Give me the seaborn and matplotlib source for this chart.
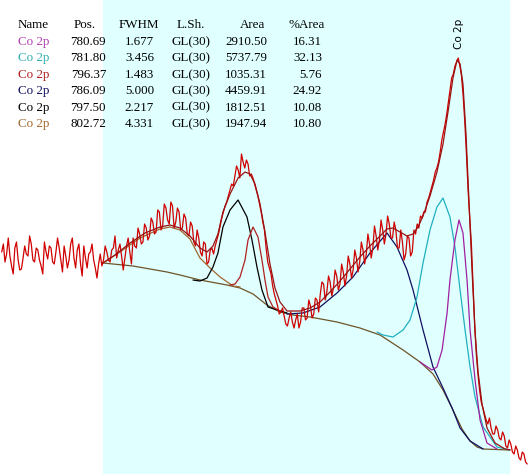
import numpy as np
import matplotlib
matplotlib.use("Agg")
import matplotlib.pyplot as plt
import seaborn as sns

# ---- spectrum (binding energy grid, eV) ----
be_start = 815.5
be_step = 0.125
counts = [222, 230, 212, 220, 236, 218, 208, 200, 226, 232, 214, 204, 205, 216, 228, 220, 218, 238, 230, 214,
          212, 226, 224, 214, 208, 200, 232, 222, 215, 228, 226, 212, 210, 222, 236, 226, 214, 202, 228, 218,
          206, 214, 230, 236, 216, 206, 224, 230, 210, 198, 228, 216, 206, 220, 222, 230, 214, 206, 196, 210,
          220, 208, 214, 228, 222, 214, 212, 224, 226, 238, 216, 224, 230, 218, 204, 216, 228, 236, 222, 210,
          236, 228, 226, 246, 240, 230, 232, 250, 246, 234, 238, 256, 252, 240, 242, 264, 262, 244, 248, 270,
          266, 254, 250, 272, 268, 246, 252, 266, 262, 244, 246, 260, 256, 240, 238, 252, 248, 232, 228, 244,
          236, 222, 218, 232, 230, 210, 212, 224, 226, 220, 228, 234, 240, 248, 256, 262, 268, 272, 278, 284,
          290, 288, 298, 308, 304, 296, 320, 312, 306, 314, 310, 298, 300, 296, 290, 284, 278, 270, 262, 252,
          244, 226, 212, 206, 200, 188, 180, 174, 168, 160, 162, 166, 158, 150, 148, 156, 162, 152, 146, 154,
          160, 146, 152, 166, 166, 154, 156, 174, 168, 156, 160, 176, 174, 162, 180, 192, 190, 174, 182, 198,
          192, 178, 186, 204, 198, 184, 190, 210, 202, 188, 198, 218, 210, 196, 204, 224, 216, 202, 212, 232,
          224, 210, 220, 240, 230, 216, 226, 248, 238, 224, 234, 254, 244, 230, 240, 258, 250, 236, 236, 252,
          244, 226, 226, 244, 232, 214, 220, 238, 236, 218, 222, 244, 240, 250, 246, 258, 256, 262, 262, 272,
          276, 282, 288, 294, 302, 306, 312, 322, 334, 342, 350, 360, 372, 384, 396, 400, 408, 412, 416, 408,
          398, 378, 352, 320, 284, 256, 230, 190, 150, 120, 100, 84, 72, 66, 60, 54, 50, 56, 46, 40,
          40, 48, 44, 36, 34, 42, 38, 28, 26, 34, 30, 22, 20, 28, 24, 16, 14, 22, 20, 12,
          10]

# ---- fit: background, envelope and components ----
bg_be = [807.79, 805.51, 802.92, 801.93, 800.41, 798.35, 797.36, 796.37, 795.31, 794.32,
         793.33, 792.03, 789.98, 788.23, 786.70, 784.95, 783.66, 782.67, 781.91, 781.15,
         780.46, 779.85, 779.32, 778.86, 776.81]
bg_cps = [211, 208, 202, 199, 194, 189, 186, 180, 169, 162,
          159, 157, 152, 146, 139, 124, 112, 100, 84, 64,
          45, 33, 27, 25, 24]

env_be = [807.79, 806.88, 805.73, 804.59, 803.45, 802.69, 801.93, 801.17, 800.41, 799.87,
          799.42, 799.04, 798.66, 798.12, 797.51, 796.98, 796.60, 796.22, 795.84, 795.46,
          795.08, 794.70, 794.32, 793.78, 792.79, 792.03, 791.27, 790.51, 789.75, 788.99,
          788.23, 787.47, 786.70, 786.17, 785.72, 785.18, 784.65, 784.19, 783.81, 783.43,
          782.90, 782.37, 781.91, 781.53, 781.15, 780.84, 780.61, 780.39, 780.16, 779.93,
          779.70, 779.47, 779.24, 778.94, 778.56, 777.95, 777.19, 776.81]
env_cps = [211, 219, 231, 241, 247, 249, 246, 238, 226, 222,
           228, 240, 262, 280, 296, 302, 300, 290, 270, 242,
           210, 186, 172, 163, 163, 166, 172, 182, 193, 205,
           217, 228, 238, 245, 246, 242, 238, 240, 247, 258,
           278, 302, 330, 362, 396, 414, 410, 390, 340, 272,
           204, 142, 102, 70, 46, 31, 25, 24]

names = ["Co 2p", "Co 2p", "Co 2p", "Co 2p", "Co 2p", "Co 2p"]
pos = ["780.69", "781.80", "796.37", "786.09", "797.50", "802.72"]
fwhm = ["1.677", "3.456", "1.483", "5.000", "2.217", "4.331"]
lsh = ["GL(30)"] * 6
area = ["2910.50", "5737.79", "1035.31", "4459.91", "1812.51", "1947.94"]
parea = ["16.31", "32.13", "5.76", "24.92", "10.08", "10.80"]

c1_be = [783.66, 782.75, 782.37, 781.98, 781.60, 781.38, 781.00, 780.69, 780.39, 780.08,
         779.85, 779.47, 779.09, 778.56, 777.80]
c1_cps = [112, 104, 107, 124, 161, 194, 234, 254, 241, 194,
          144, 94, 54, 31, 25]
c2_be = [786.93, 786.48, 785.72, 784.95, 784.42, 783.89, 783.43, 782.90, 782.37, 781.91,
         781.38, 781.00, 780.61, 780.23, 779.85, 779.47, 778.86, 777.80, 776.81]
c2_cps = [142, 139, 137, 144, 154, 177, 211, 244, 267, 276,
          257, 227, 184, 144, 107, 77, 47, 27, 24]
c3_be = [798.12, 797.74, 797.36, 796.98, 796.75, 796.37, 795.99, 795.69, 795.46, 795.23,
         794.85, 794.32]
c3_cps = [189, 190, 197, 214, 234, 247, 237, 214, 194, 177,
          167, 163]
c4_be = [793.78, 792.57, 791.27, 789.98, 788.76, 787.47, 786.17, 785.41, 784.65, 784.19,
         783.43, 782.67, 781.91, 781.22, 780.61, 779.85, 778.86]
c4_cps = [160, 161, 167, 181, 197, 221, 241, 227, 204, 184,
          144, 107, 86, 66, 46, 33, 25]
c5_be = [800.94, 800.41, 799.87, 799.42, 799.04, 798.66, 798.12, 797.51, 796.83, 796.45,
         796.07, 795.69, 795.23, 794.54, 793.78]
c5_cps = [194, 193, 196, 207, 221, 247, 264, 274, 257, 234,
          207, 184, 167, 164, 161]
c6_be = [807.79, 806.50, 804.97, 803.45, 802.69, 801.93, 801.17, 800.41, 799.64, 798.88,
         797.89, 797.36]
c6_cps = [211, 222, 236, 245, 247, 244, 235, 216, 206, 197,
          188, 187]

comp_colors = ["#a020a0", "#20b0c0", "#b02020", "#101060", "#000000", "#a06830"]
name_colors = ["#b040b0", "#30b0b0", "#b02020", "#101060", "#000000", "#a06830"]

sns.set_style("white")
plt.rcParams["font.family"] = ["Liberation Serif", "DejaVu Serif"]

W, H = 528, 474
fig = plt.figure(figsize=(W / 100, H / 100), dpi=100)
ax = fig.add_axes([0, 0, 1, 1])
ax.set_xlim(815.63, 775.44)
ax.set_ylim(0, 474)
ax.axis("off")
ax.axvspan(807.79, 776.81, color="#e0ffff", zorder=0, lw=0)

be = be_start - be_step * np.arange(len(counts))

lw = 0.9
sns.lineplot(x=bg_be, y=bg_cps, ax=ax, color="#6e5428", lw=lw, estimator=None, sort=False)
for cb, cc, col in [(c6_be, c6_cps, comp_colors[5]), (c5_be, c5_cps, comp_colors[4]),
                    (c3_be, c3_cps, comp_colors[2]), (c4_be, c4_cps, comp_colors[3]),
                    (c2_be, c2_cps, comp_colors[1]), (c1_be, c1_cps, comp_colors[0])]:
    sns.lineplot(x=cb, y=cc, ax=ax, color=col, lw=lw, estimator=None, sort=False)
sns.lineplot(x=be, y=counts, ax=ax, color="#d00000", lw=lw, estimator=None, sort=False)
sns.lineplot(x=env_be, y=env_cps, ax=ax, color="#9a1010", lw=lw, estimator=None, sort=False)

# peak label
ax.text(780.69, 474 - 34, "Co 2p", rotation=90, ha="center", va="center",
        fontsize=7.5, family=["DejaVu Sans"], color="black")

# table
fs = 9.4
def px(x, y):
    return x / W, 1 - y / H

hdr_y = 28
for txt, x, ha in [("Name", 18, "left"), ("Pos.", 85, "center"), ("FWHM", 139, "center"),
                   ("L.Sh.", 191, "center"), ("Area", 252, "center"), ("%Area", 307, "center")]:
    fig.text(*px(x, hdr_y), txt, ha=ha, va="baseline", fontsize=fs, color="black")

for i in range(6):
    y = 45 + 16.4 * i
    fig.text(*px(18, y), names[i], ha="left", va="baseline", fontsize=fs, color=name_colors[i])
    fig.text(*px(106, y), pos[i], ha="right", va="baseline", fontsize=fs, color="black")
    fig.text(*px(154, y), fwhm[i], ha="right", va="baseline", fontsize=fs, color="black")
    fig.text(*px(191, y), lsh[i], ha="center", va="baseline", fontsize=fs, color="black")
    fig.text(*px(267, y), area[i], ha="right", va="baseline", fontsize=fs, color="black")
    fig.text(*px(322, y), parea[i], ha="right", va="baseline", fontsize=fs, color="black")

fig.savefig("out.png", dpi=100, facecolor="white")
